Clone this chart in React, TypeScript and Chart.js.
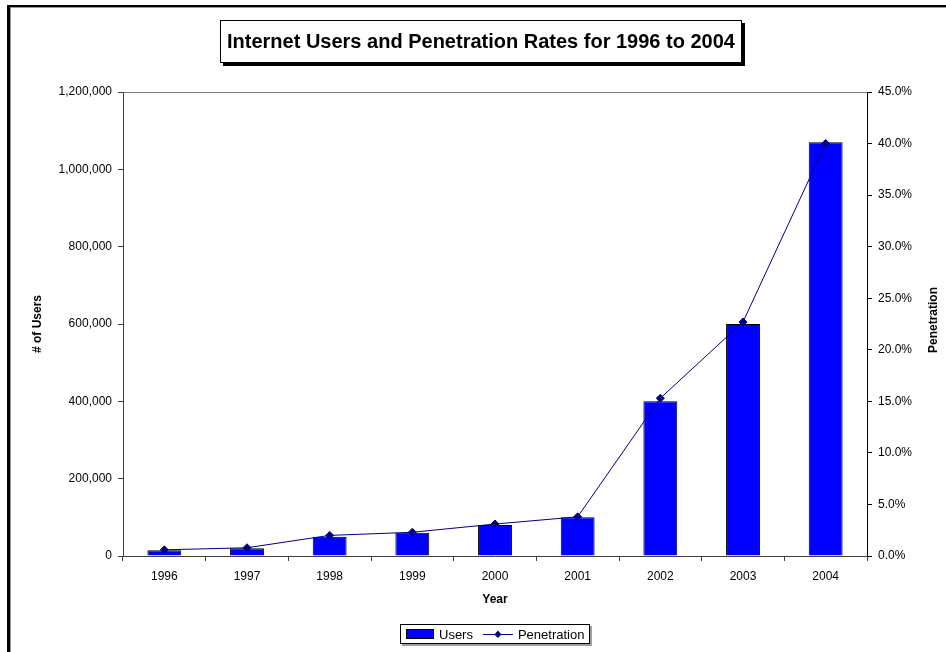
import React, { useEffect, useRef } from "react";
import { Chart, registerables } from "chart.js";

Chart.register(...registerables);

// Chart data
const years = ["1996", "1997", "1998", "1999", "2000", "2001", "2002", "2003", "2004"];
const users = [15000, 20000, 50000, 60000, 80000, 100000, 400000, 600000, 1070000];
const penetration = [0.6, 0.8, 2.0, 2.3, 3.1, 3.8, 15.3, 22.7, 40.0];

// Axis ranges
const usersMax = 1200000;
const usersStep = 200000;
const penetrationMax = 45;
const penetrationStep = 5;

const chartTitle = "Internet Users and Penetration Rates for 1996 to 2004";
const usersAxisTitle = "# of Users";
const penetrationAxisTitle = "Penetration";
const yearAxisTitle = "Year";
const legendUsers = "Users";
const legendPenetration = "Penetration";

const W = 946;
const H = 652;
const FONT = "'Liberation Sans', Arial, Helvetica, sans-serif";
const BAR_COLOR = "#0000FF";
const LINE_COLOR = "#000080";

const decorations = {
  id: "decorations",
  beforeDraw(chart: any) {
    const { ctx, chartArea } = chart;
    ctx.save();
    ctx.fillStyle = "#fff";
    ctx.fillRect(0, 0, W, H);
    // outer frame (runs off the right and bottom edges)
    ctx.fillStyle = "#000";
    ctx.fillRect(7, 5, 3, H + 10);
    ctx.fillRect(7, 5, W + 10, 2);
    ctx.fillStyle = "#9a9a9a";
    ctx.fillRect(10, 7, 1, H);
    ctx.fillRect(10, 7, W, 1);
    // top edge of the plot area
    ctx.strokeStyle = "#808080";
    ctx.lineWidth = 1;
    ctx.beginPath();
    ctx.moveTo(chartArea.left, chartArea.top + 0.5);
    ctx.lineTo(chartArea.right, chartArea.top + 0.5);
    ctx.stroke();
    ctx.restore();
  },
  afterDraw(chart: any) {
    const { ctx, chartArea } = chart;
    const cx = (chartArea.left + chartArea.right) / 2;
    ctx.save();

    // title box with drop shadow
    ctx.font = `bold 20px ${FONT}`;
    const tw = ctx.measureText(chartTitle).width;
    const bx = Math.round(cx - 14 - tw / 2 - 7);
    const by = 20;
    const bw = Math.round(tw + 14);
    const bh = 43;
    ctx.fillStyle = "#000";
    ctx.fillRect(bx + 3, by + 3, bw, bh);
    ctx.fillStyle = "#fff";
    ctx.fillRect(bx, by, bw, bh);
    ctx.strokeStyle = "#000";
    ctx.lineWidth = 1;
    ctx.strokeRect(bx + 0.5, by + 0.5, bw - 1, bh - 1);
    ctx.fillStyle = "#000";
    ctx.textAlign = "left";
    ctx.textBaseline = "middle";
    ctx.fillText(chartTitle, bx + 7, by + bh / 2 + 1);

    // right axis title, reading bottom to top
    ctx.font = `bold 12px ${FONT}`;
    ctx.translate(934, (chartArea.top + chartArea.bottom) / 2 - 4);
    ctx.rotate(-Math.PI / 2);
    ctx.textAlign = "center";
    ctx.textBaseline = "middle";
    ctx.fillText(penetrationAxisTitle, 0, 0);
    ctx.setTransform(1, 0, 0, 1, 0, 0);

    // legend
    ctx.font = `13px ${FONT}`;
    const swatchW = 28;
    const lineW = 30;
    const gap = 5;
    const w1 = ctx.measureText(legendUsers).width;
    const w2 = ctx.measureText(legendPenetration).width;
    const inner = swatchW + gap + w1 + 2 * gap + lineW + gap + w2;
    const lw = Math.round(inner + 12);
    const lx = Math.round(cx - lw / 2);
    const ly = 624;
    const lh = 20;
    ctx.fillStyle = "#a0a0a0";
    ctx.fillRect(lx + 2, ly + 2, lw, lh);
    ctx.fillStyle = "#fff";
    ctx.fillRect(lx, ly, lw, lh);
    ctx.strokeStyle = "#000";
    ctx.strokeRect(lx + 0.5, ly + 0.5, lw - 1, lh - 1);
    let x = lx + 6;
    const my = ly + lh / 2;
    ctx.fillStyle = BAR_COLOR;
    ctx.fillRect(x, my - 5, swatchW, 10);
    ctx.strokeStyle = "#000";
    ctx.strokeRect(x + 0.5, my - 4.5, swatchW - 1, 9);
    x += swatchW + gap;
    ctx.fillStyle = "#000";
    ctx.textAlign = "left";
    ctx.textBaseline = "middle";
    ctx.fillText(legendUsers, x, my + 1);
    x += w1 + 2 * gap;
    ctx.strokeStyle = LINE_COLOR;
    ctx.beginPath();
    ctx.moveTo(x, my + 0.5);
    ctx.lineTo(x + lineW, my + 0.5);
    ctx.stroke();
    ctx.fillStyle = LINE_COLOR;
    ctx.beginPath();
    const dx = x + lineW / 2;
    ctx.moveTo(dx, my - 3.5);
    ctx.lineTo(dx + 3.5, my + 0.5);
    ctx.lineTo(dx, my + 4);
    ctx.lineTo(dx - 3.5, my + 0.5);
    ctx.closePath();
    ctx.fill();
    x += lineW + gap;
    ctx.fillStyle = "#000";
    ctx.fillText(legendPenetration, x, my + 1);

    ctx.restore();
  },
};

export default function App() {
  const ref = useRef<HTMLCanvasElement | null>(null);

  useEffect(() => {
    if (!ref.current) return;
    Chart.defaults.font.family = FONT;
    Chart.defaults.color = "#000";

    const chart = new Chart(ref.current, {
      type: "bar",
      data: {
        labels: years,
        datasets: [
          {
            type: "line",
            label: legendPenetration,
            data: penetration,
            yAxisID: "y1",
            borderColor: LINE_COLOR,
            backgroundColor: LINE_COLOR,
            borderWidth: 1,
            pointStyle: "rectRot",
            pointRadius: 4,
            pointBackgroundColor: LINE_COLOR,
            pointBorderColor: LINE_COLOR,
            tension: 0,
            order: 1,
          } as any,
          {
            type: "bar",
            label: legendUsers,
            data: users,
            yAxisID: "y",
            backgroundColor: BAR_COLOR,
            borderColor: "#000",
            borderWidth: 1,
            barPercentage: 0.41,
            categoryPercentage: 1,
            order: 2,
          },
        ],
      },
      options: {
        responsive: false,
        animation: false,
        layout: { padding: { top: 92, left: 0, right: 0, bottom: 0 } },
        plugins: {
          legend: { display: false },
          title: { display: false },
          tooltip: { enabled: false },
        },
        scales: {
          x: {
            offset: true,
            grid: {
              display: true,
              offset: true,
              drawOnChartArea: false,
              drawTicks: true,
              tickLength: 5,
              color: "#404040",
            },
            border: { display: true, color: "#404040" },
            ticks: { font: { size: 12 }, padding: 8, color: "#000", maxRotation: 0 },
            title: {
              display: true,
              text: yearAxisTitle,
              font: { size: 12, weight: "bold" },
              padding: { top: 0, bottom: 45 },
              color: "#000",
            },
            afterFit(scale: any) {
              scale.height = 96;
            },
          },
          y: {
            position: "left",
            min: 0,
            max: usersMax,
            grid: {
              display: true,
              drawOnChartArea: false,
              drawTicks: true,
              tickLength: 5,
              color: "#404040",
            },
            border: { display: true, color: "#404040" },
            ticks: {
              stepSize: usersStep,
              font: { size: 12 },
              padding: 6,
              color: "#000",
              callback: (v: any) => Number(v).toLocaleString("en-US"),
            },
            title: {
              display: true,
              text: usersAxisTitle,
              font: { size: 12, weight: "bold" },
              padding: { top: 30, bottom: 0 },
              color: "#000",
            },
            afterFit(scale: any) {
              scale.width = 123;
            },
          },
          y1: {
            position: "right",
            min: 0,
            max: penetrationMax,
            grid: {
              display: true,
              drawOnChartArea: false,
              drawTicks: true,
              tickLength: 5,
              color: "#000",
            },
            border: { display: true, color: "#000" },
            ticks: {
              stepSize: penetrationStep,
              font: { size: 12 },
              padding: 6,
              color: "#000",
              callback: (v: any) => Number(v).toFixed(1) + "%",
            },
            afterFit(scale: any) {
              scale.width = W - 867;
            },
          },
        },
      },
      plugins: [decorations],
    });

    return () => chart.destroy();
  }, []);

  return (
    <div style={{ position: "fixed", left: 0, top: 0, width: W, height: H, background: "#fff" }}>
      <canvas ref={ref} width={W} height={H} style={{ display: "block" }} />
    </div>
  );
}
